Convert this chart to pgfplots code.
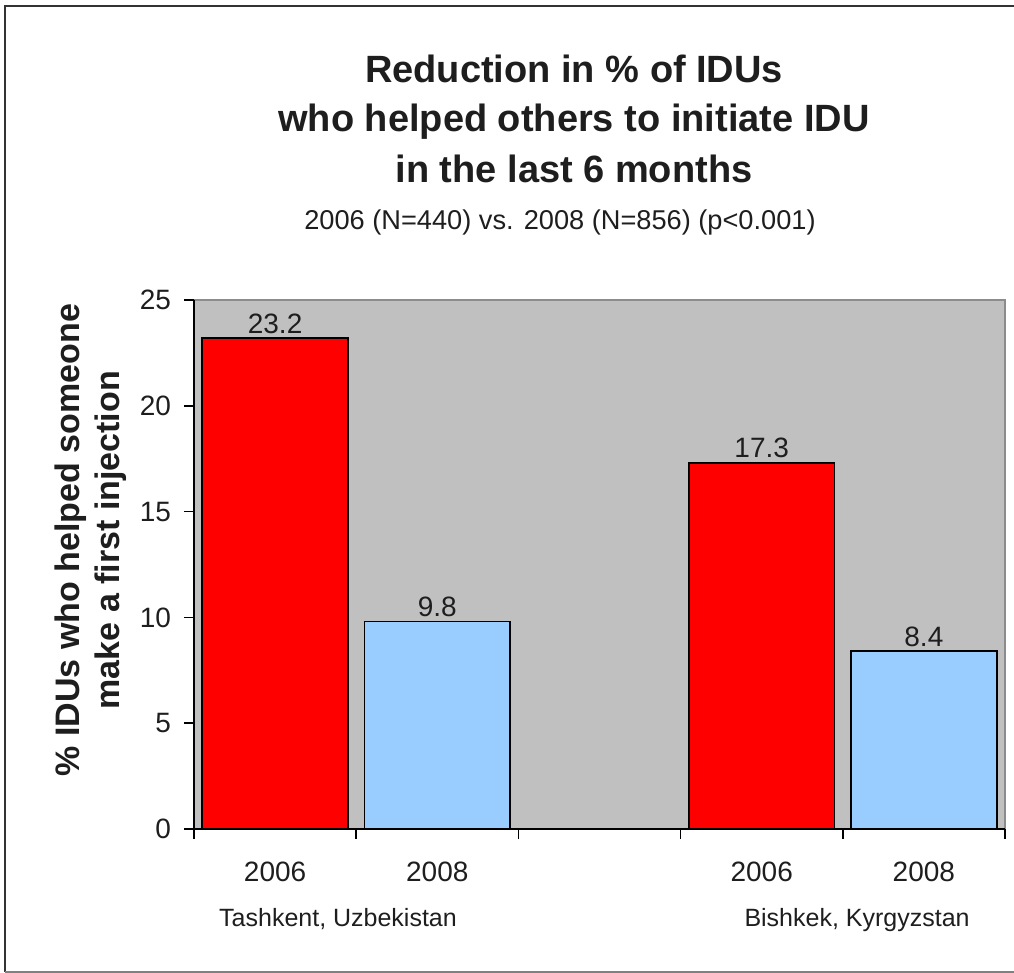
\documentclass[border=0pt]{standalone}
\usepackage{pgfplots}
\pgfplotsset{compat=1.18}
\usepackage{fontspec}
\setmainfont{Liberation Sans}
\definecolor{plotgray}{HTML}{C0C0C0}
\definecolor{edgegray}{HTML}{8C8C8C}
\definecolor{barred}{HTML}{FF0000}
\definecolor{barblue}{HTML}{99CCFF}
\definecolor{txt}{HTML}{1E1E1E}

\begin{document}
\begin{tikzpicture}
\useasboundingbox (0,0) rectangle (507pt,486.5pt);
% outer frame (right side runs off the picture)
\draw[black!80, line width=1pt] (508pt,483.5pt) -- (2.5pt,483.5pt) -- (2.5pt,0.5pt);
\draw[gray, line width=1pt] (2.5pt,0.5pt) -- (508pt,0.5pt);

% title and subtitle
\node[anchor=base, text=txt, font=\fontsize{19}{22}\selectfont\bfseries] at (287pt,445pt) {Reduction in \% of IDUs};
\node[anchor=base, text=txt, font=\fontsize{19}{22}\selectfont\bfseries] at (287pt,420.5pt) {who helped others to initiate IDU};
\node[anchor=base, text=txt, font=\fontsize{19}{22}\selectfont\bfseries] at (287pt,395pt) {in the last 6 months};
\node[anchor=base, text=txt, font=\fontsize{13.6}{15}\selectfont] at (280pt,371.5pt) {2006 (N=440) vs. 2008 (N=856) (p<0.001)};

\begin{axis}[
    at={(97pt,72pt)}, anchor=south west,
    scale only axis, width=405.5pt, height=264.5pt,
    xmin=-0.5, xmax=4.5,
    ymin=0, ymax=25,
    clip=false,
    axis background/.style={fill=plotgray},
    axis line style={draw=none},
    xtick pos=bottom, ytick pos=left,
    tick align=outside,
    major tick length=5pt,
    tick style={black, line width=0.8pt},
    xtick={-0.5,0.5,1.5,2.5,3.5,4.5},
    xticklabels={},
    extra x ticks={0,1,3,4},
    extra x tick labels={2006,2008,2006,2008},
    extra x tick style={major tick length=0pt, tick style={draw=none}},
    ytick={0,5,10,15,20,25},
    /pgf/number format/assume math mode=true,
    ticklabel style={font=\fontsize{14}{16}\selectfont, text=txt},
    xticklabel style={yshift=-13pt},
    yticklabel style={xshift=-3pt},
    ylabel={\% IDUs who helped someone\\make a first injection},
    ylabel style={align=center, text=txt, font=\fontsize{17}{20}\selectfont\bfseries},
    every axis y label/.append style={at={(ticklabel cs:0.546)}},
    ybar, bar width=0.9,
    nodes near coords,
    every node near coord/.append style={anchor=base, yshift=2.5pt, text=txt, font=\fontsize{14}{16}\selectfont},
]
    % 2006
    \addplot[fill=barred, draw=black, line width=0.8pt, bar shift=0pt]
    coordinates {
        (0 , 23.2)
        (3 , 17.3)
    };
    % 2008
    \addplot[fill=barblue, draw=black, line width=0.8pt, bar shift=0pt]
    coordinates {
        (1 , 9.8)
        (4 , 8.4)
    };

    \draw[edgegray, line width=1.2pt] (rel axis cs:0,1) -- (rel axis cs:1,1) -- (rel axis cs:1,0);
    \draw[black, line width=0.8pt] (rel axis cs:0,1) -- (rel axis cs:0,0) -- (rel axis cs:1,0);

    \node[anchor=base, text=txt, font=\fontsize{12.5}{15}\selectfont, yshift=-49pt] at (axis cs:0.388,0) {Tashkent, Uzbekistan};
    \node[anchor=base, text=txt, font=\fontsize{12.5}{15}\selectfont, yshift=-49pt] at (axis cs:3.588,0) {Bishkek, Kyrgyzstan};
\end{axis}
\end{tikzpicture}
\end{document}
